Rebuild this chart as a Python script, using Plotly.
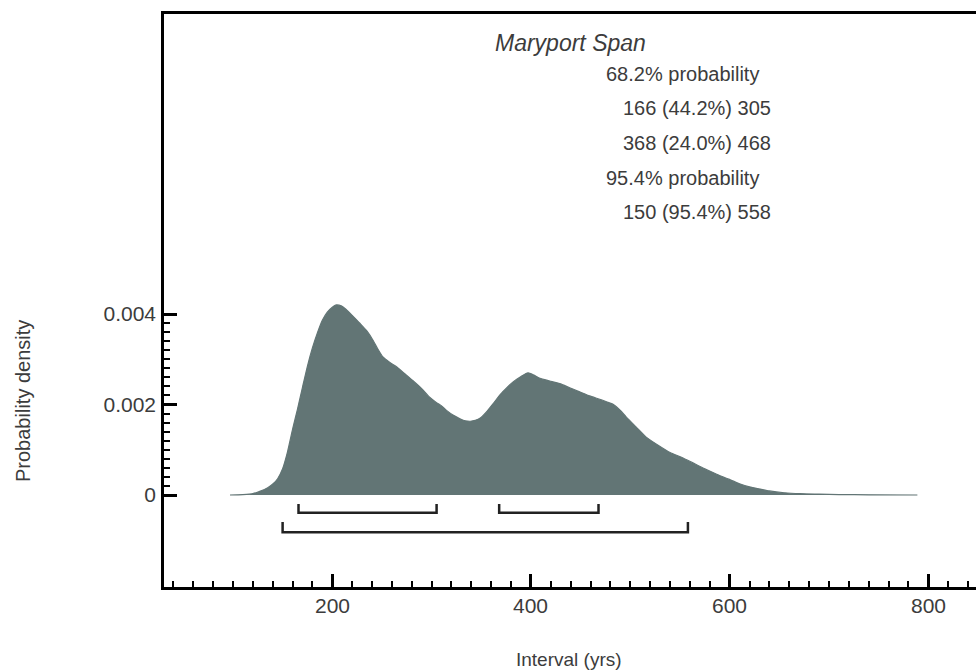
import plotly.graph_objects as go

# Posterior density of the span (years)
interval_yrs = [97, 110, 120, 127, 135, 141, 145, 150, 155, 160, 165, 170, 175, 180, 185,
                190, 195, 200, 204, 209, 214, 220, 228, 235, 241, 246, 251, 258, 265, 273,
                281, 290, 298, 305, 310, 315, 322, 329, 334, 339, 344, 349, 355, 362, 369,
                376, 382, 390, 397, 403, 409, 419, 429, 439, 449, 459, 470, 476, 483, 490,
                496, 506, 516, 528, 540, 552, 563, 575, 587, 599, 610, 620, 631, 640, 655,
                671, 690, 710, 740, 789]
density = [0.0, 0.00001, 0.00003, 0.00008, 0.00016, 0.00026, 0.00036, 0.00058, 0.00096,
           0.00145, 0.00190, 0.00238, 0.00285, 0.00325, 0.00358, 0.00386, 0.00404, 0.00415,
           0.00420, 0.00418, 0.00410, 0.00397, 0.00379, 0.00362, 0.00342, 0.00322, 0.00305,
           0.00293, 0.00283, 0.00268, 0.00253, 0.00235, 0.00216, 0.00204, 0.00197, 0.00187,
           0.00176, 0.00168, 0.00164, 0.00163, 0.00165, 0.00170, 0.00183, 0.00202, 0.00222,
           0.00238, 0.00250, 0.00262, 0.00270, 0.00265, 0.00258, 0.00252, 0.00246, 0.00237,
           0.00228, 0.00219, 0.00211, 0.00206, 0.00200, 0.00187, 0.00172, 0.00150, 0.00128,
           0.00110, 0.00094, 0.00083, 0.00071, 0.00058, 0.00046, 0.00035, 0.00025, 0.00018,
           0.00013, 0.00009, 0.00005, 0.00003, 0.00002, 0.00001, 0.000005, 0.0]

# Highest posterior density ranges
hpd68_lo = [166, 368]
hpd68_hi = [305, 468]
hpd68_pct = [44.2, 24.0]
hpd95_lo = [150]
hpd95_hi = [558]
hpd95_pct = [95.4]

# Axis ticks
x_major = [200, 400, 600, 800]
y_major = [0, 0.002, 0.004]
y_major_text = ["0", "0.002", "0.004"]

FONT = "Liberation Sans, Arial, Helvetica, sans-serif"
TXT = "#3c3c3c"
FILL = "#627575"

fig = go.Figure()
fig.add_trace(go.Scatter(
    x=interval_yrs, y=density, mode="lines", fill="tozeroy", line_shape="spline",
    fillcolor=FILL, line=dict(color=FILL, width=1.2, smoothing=0.6), hoverinfo="skip",
))


def bracket(lo, hi, level, top):
    fig.add_trace(go.Scatter(
        x=[lo, lo, hi, hi], y=[top, level, level, top], mode="lines",
        line=dict(color="#222222", width=2.5), hoverinfo="skip",
    ))


for lo, hi in zip(hpd68_lo, hpd68_hi):
    bracket(lo, hi, -0.000391, -0.000199)
for lo, hi in zip(hpd95_lo, hpd95_hi):
    bracket(lo, hi, -0.000824, -0.000597)

PL, PR, PT, PB = 164, 976, 14, 587
W, H = 976, 670


def px(xp):
    return (xp - PL) / (PR - PL)


def py(yp):
    return (PB - yp) / (PB - PT)


annots = []


def note(text, xp, yp, size=20, italic=False):
    annots.append(dict(
        text=f"<i>{text}</i>" if italic else text, xref="paper", yref="paper",
        x=px(xp), y=py(yp), xanchor="left", yanchor="middle", showarrow=False,
        font=dict(family=FONT, size=size, color=TXT),
    ))


note("Maryport Span", 493, 43, size=23, italic=True)
rows = ["68.2% probability"]
rows += [f"{lo} ({p:.1f}%) {hi}" for lo, hi, p in zip(hpd68_lo, hpd68_hi, hpd68_pct)]
rows += ["95.4% probability"]
rows += [f"{lo} ({p:.1f}%) {hi}" for lo, hi, p in zip(hpd95_lo, hpd95_hi, hpd95_pct)]
ypos = 74
for r in rows:
    note(r, 604 if "probability" in r else 621, ypos)
    ypos += 34.5

# x tick labels sit close under the axis line
for v in x_major:
    annots.append(dict(
        text=str(v), xref="x", yref="paper", x=v, y=py(605),
        xanchor="center", yanchor="middle", showarrow=False,
        font=dict(family=FONT, size=21, color=TXT),
    ))

annots.append(dict(
    text="Probability density", xref="paper", yref="paper", x=px(23), y=py(401),
    xanchor="center", yanchor="middle", textangle=-90, showarrow=False,
    font=dict(family=FONT, size=20, color=TXT),
))
annots.append(dict(
    text="Interval (yrs)", xref="paper", yref="paper", x=px(569), y=py(660),
    xanchor="center", yanchor="middle", showarrow=False,
    font=dict(family=FONT, size=19, color=TXT),
))

y_minor = [round(v * 0.0002, 6) for v in range(1, 20) if v % 10 != 0]

fig.update_layout(
    width=W, height=H, showlegend=False,
    margin=dict(l=PL, r=W - PR, t=PT, b=H - PB, pad=0),
    paper_bgcolor="white", plot_bgcolor="white",
    annotations=annots,
    xaxis=dict(
        range=[30.6, 848], tickvals=x_major, ticks="inside", ticklen=13, tickwidth=2.5,
        tickcolor="black", showline=True, linewidth=2.5, linecolor="black", mirror=True,
        showgrid=False, zeroline=False, showticklabels=False,
        minor=dict(tickmode="linear", tick0=0, dtick=20, ticks="inside", ticklen=6,
                   tickwidth=1.5, tickcolor="black", showgrid=False),
    ),
    yaxis=dict(
        range=[-0.002033, 0.01063], tickmode="array", tickvals=y_major,
        ticktext=y_major_text, ticks="inside", ticklen=13, tickwidth=2.5,
        tickcolor="black", showline=True, linewidth=2.5, linecolor="black",
        showgrid=False, zeroline=False, ticklabelstandoff=1,
        tickfont=dict(family=FONT, size=21, color=TXT),
        minor=dict(tickmode="array", tickvals=y_minor, ticks="inside", ticklen=6,
                   tickwidth=1.5, tickcolor="black", showgrid=False),
    ),
)

fig.write_html("out.html")
